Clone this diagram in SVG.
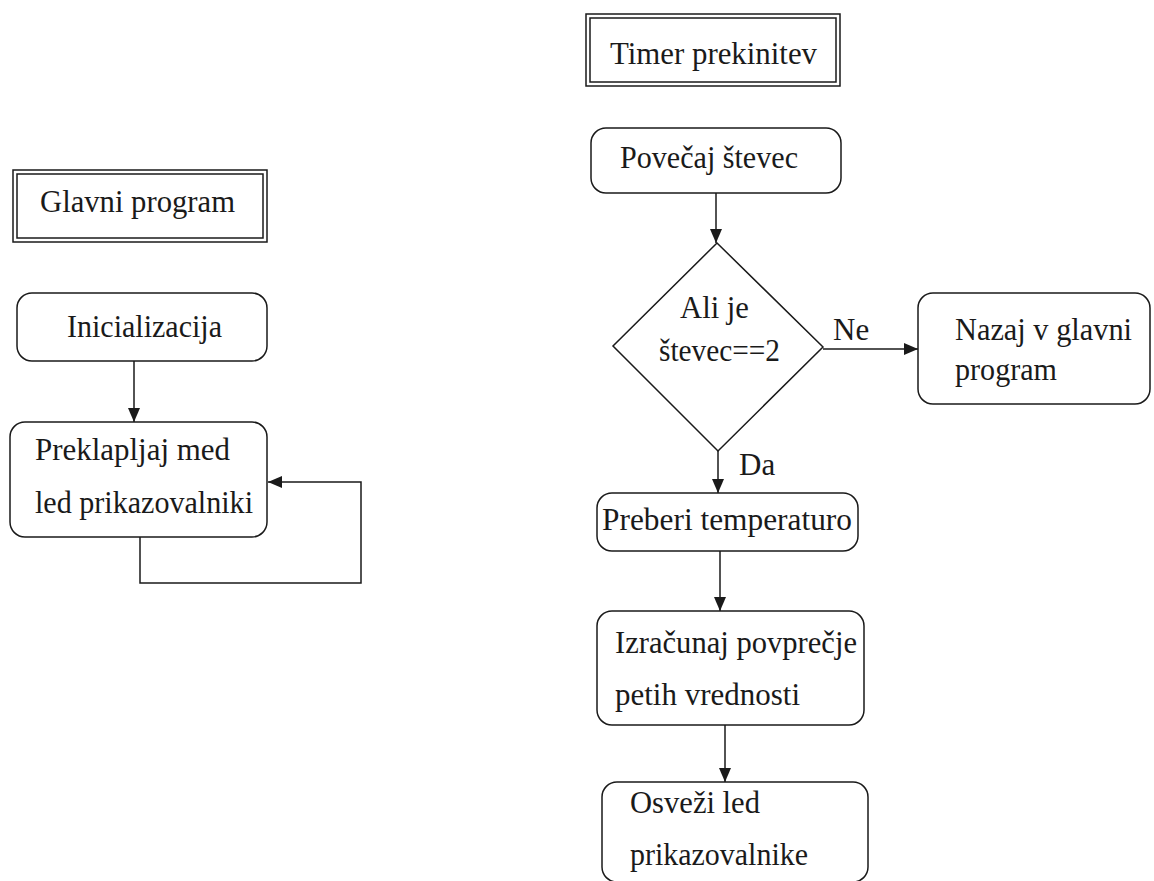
<svg xmlns="http://www.w3.org/2000/svg" width="1154" height="881" viewBox="0 0 1154 881">
<defs>
<style>
.box{fill:#fff;stroke:#1a1a1a;stroke-width:1.5}
.ln{fill:none;stroke:#1a1a1a;stroke-width:1.5}
.t{font-family:'Liberation Serif',serif;font-size:31px;fill:#1a1a1a}
</style>
<marker id="ah" viewBox="0 0 14 12" refX="14" refY="6" markerWidth="14" markerHeight="12" markerUnits="userSpaceOnUse" orient="auto">
<path d="M0,0 L14,6 L0,12 Z" fill="#1a1a1a"/>
</marker>
</defs>
<rect width="1154" height="881" fill="#fff"/>
<g id="connectors">
<line class="ln" x1="134" y1="361" x2="134" y2="422" marker-end="url(#ah)"/>
<polyline class="ln" points="140,537 140,583 361,583 361,482 268,482" marker-end="url(#ah)"/>
<line class="ln" x1="716" y1="193" x2="716" y2="243" marker-end="url(#ah)"/>
<line class="ln" x1="823" y1="349" x2="918" y2="349" marker-end="url(#ah)"/>
<line class="ln" x1="718" y1="451" x2="718" y2="493" marker-end="url(#ah)"/>
<line class="ln" x1="720" y1="551" x2="720" y2="611" marker-end="url(#ah)"/>
<line class="ln" x1="725" y1="725" x2="725" y2="782" marker-end="url(#ah)"/>
<text class="t" x="833" y="340">Ne</text>
<text class="t" x="739" y="475">Da</text>
</g>
<g id="glavni">
<rect class="box" x="13" y="170" width="254" height="72"/>
<rect class="box" x="17" y="174" width="246" height="64"/>
<text class="t" x="40" y="212" textLength="195" lengthAdjust="spacingAndGlyphs">Glavni program</text>
</g>
<g id="inicializacija">
<rect class="box" x="17" y="293" width="250" height="68" rx="15"/>
<text class="t" x="67" y="337" textLength="155" lengthAdjust="spacingAndGlyphs">Inicializacija</text>
</g>
<g id="preklapljaj">
<rect class="box" x="10" y="422" width="257" height="115" rx="15"/>
<text class="t" x="35" y="460" textLength="195" lengthAdjust="spacingAndGlyphs">Preklapljaj med</text>
<text class="t" x="35" y="513" textLength="218" lengthAdjust="spacingAndGlyphs">led prikazovalniki</text>
</g>
<g id="timer">
<rect class="box" x="586" y="14" width="254" height="72"/>
<rect class="box" x="590" y="18" width="246" height="64"/>
<text class="t" x="610" y="64" textLength="207" lengthAdjust="spacingAndGlyphs">Timer prekinitev</text>
</g>
<g id="povecaj">
<rect class="box" x="591" y="128" width="250" height="65" rx="15"/>
<text class="t" x="620" y="168" textLength="178" lengthAdjust="spacingAndGlyphs">Povečaj števec</text>
</g>
<g id="odlocitev">
<polygon class="box" points="717,243 823,347 718,451 613,346"/>
<text class="t" x="680" y="318" textLength="69" lengthAdjust="spacingAndGlyphs">Ali je</text>
<text class="t" x="659" y="361" textLength="121" lengthAdjust="spacingAndGlyphs">števec==2</text>
</g>
<g id="nazaj">
<rect class="box" x="918" y="293" width="232" height="111" rx="15"/>
<text class="t" x="955" y="340" textLength="177" lengthAdjust="spacingAndGlyphs">Nazaj v glavni</text>
<text class="t" x="955" y="380" textLength="102" lengthAdjust="spacingAndGlyphs">program</text>
</g>
<g id="preberi">
<rect class="box" x="597" y="493" width="261" height="58" rx="15"/>
<text class="t" x="602" y="530" textLength="250" lengthAdjust="spacingAndGlyphs">Preberi temperaturo</text>
</g>
<g id="izracunaj">
<rect class="box" x="597" y="611" width="267" height="114" rx="15"/>
<text class="t" x="615" y="653" textLength="242" lengthAdjust="spacingAndGlyphs">Izračunaj povprečje</text>
<text class="t" x="615" y="705" textLength="185" lengthAdjust="spacingAndGlyphs">petih vrednosti</text>
</g>
<g id="osvezi">
<rect class="box" x="602" y="782" width="266" height="100" rx="15"/>
<text class="t" x="630" y="813" textLength="130" lengthAdjust="spacingAndGlyphs">Osveži led</text>
<text class="t" x="630" y="865" textLength="178" lengthAdjust="spacingAndGlyphs">prikazovalnike</text>
</g>
</svg>
